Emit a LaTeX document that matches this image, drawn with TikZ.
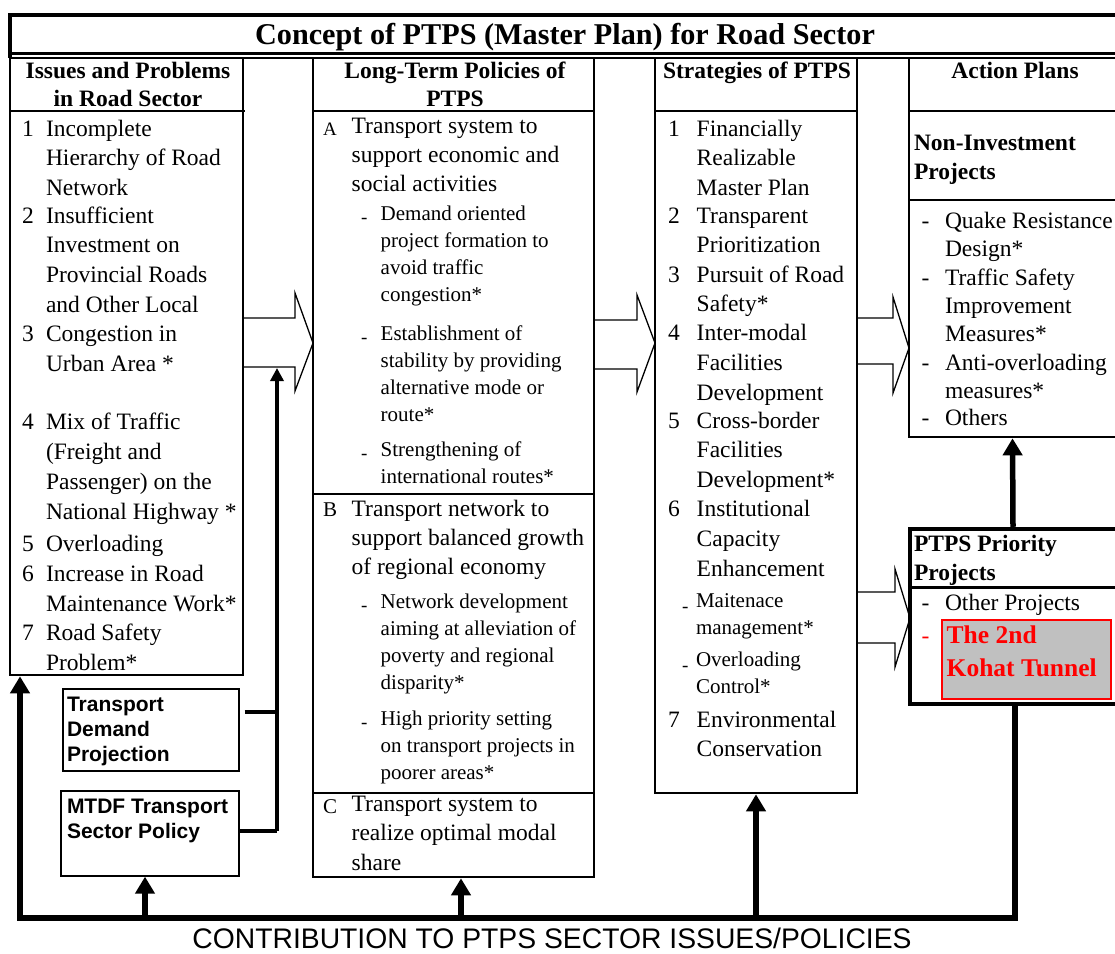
\documentclass[tikz,border=0pt]{standalone}
\usepackage{fontspec}
\setmainfont{Liberation Serif}
\newfontfamily\gothic{Liberation Sans}
\usetikzlibrary{arrows.meta}
\definecolor{tunnelgray}{RGB}{192,192,192}
\definecolor{tunnelred}{RGB}{255,0,0}
\newcommand{\mlines}[1]{\begin{tabular}[t]{@{}l@{}}#1\end{tabular}}
\newcommand{\clines}[1]{\begin{tabular}[t]{@{}c@{}}#1\end{tabular}}
\begin{document}
\begin{tikzpicture}[x=1pt,y=-1pt,
 colbox/.style={draw, line width=2.6pt, inner sep=0pt},
 sepline/.style={line width=2.6pt},
 smallbox/.style={draw, line width=1.3pt, inner sep=0pt},
 txt/.style={inner sep=0pt, outer sep=0pt, anchor=base west},
 main/.style={txt, font=\fontsize{23.5}{29.7}\selectfont},
 sub/.style={txt, font=\fontsize{21}{27.2}\selectfont},
 dashmark/.style={txt, font=\fontsize{19}{19}\selectfont},
 hdr/.style={inner sep=0pt, anchor=base, font=\bfseries\fontsize{23.5}{28}\selectfont},
 bhd/.style={txt, font=\bfseries\fontsize{23.5}{29.5}\selectfont},
 gth/.style={txt, font=\gothic\bfseries\fontsize{21}{25}\selectfont},
 hollow/.style={line width=1.3pt, line join=miter},
 feed/.style={line width=5.5pt, line join=miter},
 feedtip/.style={-{Triangle[length=17pt,width=19pt]}},
 conn/.style={line width=3.3pt},
 conntip/.style={-{Triangle[length=13pt,width=13pt]}},
]
\useasboundingbox (0,0) rectangle (1115,953);
\clip (0,0) rectangle (1115,953);

% title frame
\draw[line width=3.5pt, line join=miter] (1125,15) -- (10,15) -- (10,58);
\draw[line width=3pt] (8.5,53) -- (1125,53);
\draw[line width=2pt] (8.5,58) -- (1125,58);
\node[inner sep=0pt, anchor=base, font=\bfseries\fontsize{30.2}{34}\selectfont] (title) at (565,44) {Concept of PTPS (Master Plan) for Road Sector};

% column boxes
\node[colbox, minimum width=233pt, minimum height=617pt] (c1) at (126.5,366.5) {};
\node[colbox, minimum width=281pt, minimum height=819pt] (c2) at (453.5,467.5) {};
\node[colbox, minimum width=202pt, minimum height=735pt] (c3) at (756,425.5) {};
\node[colbox, minimum width=216pt, minimum height=379pt] (c4) at (1017,247.5) {};
\node[draw, line width=4.5pt, inner sep=0pt, minimum width=215pt, minimum height=175pt] (pp) at (1017.5,616.5) {};
\node[draw=tunnelred, fill=tunnelgray, line width=1.3pt, inner sep=0pt, minimum width=169pt, minimum height=79pt] (redbox) at (1026.5,659.5) {};

\draw[sepline] (10,111) -- (245,111);
\draw[sepline] (313,111) -- (594,111);
\draw[sepline] (313,494) -- (594,494);
\draw[sepline] (313,793) -- (594,793);
\draw[sepline] (655,111) -- (857,111);
\draw[sepline] (909,111) -- (1125,111);
\draw[sepline] (909,200) -- (1125,200);
\draw[line width=3pt] (910,587) -- (1125,587);

% headers
\node[hdr] (h1) at (128,78) {\clines{Issues and Problems\\in Road Sector}};
\node[hdr] (h2) at (455,78) {\clines{Long-Term Policies of\\PTPS}};
\node[hdr] (h3) at (757,78) {Strategies of PTPS};
\node[hdr] (h4) at (1015,78) {Action Plans};

% column 1
\node[main] (n11) at (22,136) {1};
\node[main] (t11) at (46,136) {\mlines{Incomplete\\Hierarchy of Road\\Network}};
\node[main] (n12) at (22,223) {2};
\node[main] (t12) at (46,223) {\mlines{Insufficient\\Investment on\\Provincial Roads\\and Other Local}};
\node[main] (n13) at (22,341.7) {3};
\node[main] (t13) at (46,341.7) {\mlines{Congestion in\\Urban Area *}};
\node[main] (n14) at (22,429) {4};
\node[main, font=\fontsize{23.5}{30.3}\selectfont] (t14) at (46,429) {\mlines{Mix of Traffic\\(Freight and\\Passenger) on the\\National Highway *}};
\node[main] (n15) at (22,551.7) {5};
\node[main] (t15) at (46,551.7) {Overloading};
\node[main] (n16) at (22,581.7) {6};
\node[main] (t16) at (46,581.7) {\mlines{Increase in Road\\Maintenance Work*}};
\node[main] (n17) at (22,640.7) {7};
\node[main] (t17) at (46,640.7) {\mlines{Road Safety\\Problem*}};

% column 2
\node[txt, font=\fontsize{19}{19}\selectfont] (la) at (323,135) {A};
\node[main, font=\fontsize{23.5}{29.2}\selectfont] (ta) at (351.7,133) {\mlines{Transport system to\\support economic and\\social activities}};
\node[dashmark] (da1) at (361,223) {-};
\node[sub] (sa1) at (380.7,220) {\mlines{Demand oriented\\project formation to\\avoid traffic\\congestion*}};
\node[dashmark] (da2) at (361,343) {-};
\node[sub] (sa2) at (380.7,340) {\mlines{Establishment of\\stability by providing\\alternative mode or\\route*}};
\node[dashmark] (da3) at (361,459.7) {-};
\node[sub] (sa3) at (380.7,456.7) {\mlines{Strengthening of\\international routes*}};
\node[txt, font=\fontsize{21}{21}\selectfont] (lb) at (323,516) {B};
\node[main, font=\fontsize{23.5}{29.2}\selectfont] (tb) at (351.7,516) {\mlines{Transport network to\\support balanced growth\\of regional economy}};
\node[dashmark] (db1) at (361,611) {-};
\node[sub] (sb1) at (380.7,608) {\mlines{Network development\\aiming at alleviation of\\poverty and regional\\disparity*}};
\node[dashmark] (db2) at (361,728) {-};
\node[sub] (sb2) at (380.7,725) {\mlines{High priority setting\\on transport projects in\\poorer areas*}};
\node[txt, font=\fontsize{21}{21}\selectfont] (lc) at (323,813) {C};
\node[main, font=\fontsize{23.5}{29.2}\selectfont] (tc) at (351.7,811.7) {\mlines{Transport system to\\realize optimal modal\\share}};

% column 3
\node[main] (n31) at (668,136) {1};
\node[main] (t31) at (696.7,136) {\mlines{Financially\\Realizable\\Master Plan}};
\node[main] (n32) at (668,223) {2};
\node[main] (t32) at (696.7,223) {\mlines{Transparent\\Prioritization}};
\node[main] (n33) at (668,282) {3};
\node[main] (t33) at (696.7,282) {\mlines{Pursuit of Road\\Safety*}};
\node[main] (n34) at (668,340.7) {4};
\node[main] (t34) at (696.7,340.7) {\mlines{Inter-modal\\Facilities\\Development}};
\node[main] (n35) at (668,428) {5};
\node[main] (t35) at (696.7,428) {\mlines{Cross-border\\Facilities\\Development*}};
\node[main] (n36) at (668,516.7) {6};
\node[main] (t36) at (696.7,516.7) {\mlines{Institutional\\Capacity\\Enhancement}};
\node[dashmark] (d361) at (682,612) {-};
\node[sub] (s361) at (696,607) {\mlines{Maitenace\\management*}};
\node[dashmark] (d362) at (682,671) {-};
\node[sub] (s362) at (696,666) {\mlines{Overloading\\Control*}};
\node[main] (n37) at (668,727) {7};
\node[main] (t37) at (696.7,727) {\mlines{Environmental\\Conservation}};

% column 4
\node[bhd] (nih) at (914,150) {\mlines{Non-Investment\\Projects}};
\node[main] (d41) at (921.7,228) {-};
\node[main, font=\fontsize{23.5}{28.5}\selectfont] (t41) at (945,228) {\mlines{Quake Resistance\\Design*}};
\node[main] (d42) at (921.7,285) {-};
\node[main, font=\fontsize{23.5}{28.4}\selectfont] (t42) at (945,285) {\mlines{Traffic Safety\\Improvement\\Measures*}};
\node[main] (d43) at (921.7,370) {-};
\node[main, font=\fontsize{23.5}{28.4}\selectfont] (t43) at (945,370) {\mlines{Anti-overloading\\measures*}};
\node[main] (d44) at (921.7,425) {-};
\node[main] (t44) at (945,425) {Others};

% PTPS priority
\node[bhd, font=\bfseries\fontsize{23.5}{28.5}\selectfont] (pph) at (914,551.7) {\mlines{PTPS Priority\\Projects}};
\node[main] (d51) at (921.7,610) {-};
\node[main] (t51) at (945,610) {Other Projects};
\node[main, text=tunnelred] (d52) at (921.7,643) {-};
\node[txt, text=tunnelred, font=\bfseries\fontsize{25.5}{33.7}\selectfont] (t52) at (946.7,643) {\mlines{The 2nd\\Kohat Tunnel}};

% small boxes
\node[smallbox, minimum width=176pt, minimum height=82pt] (tdp) at (151,730) {};
\node[gth] (tdpt) at (67,711.7) {\mlines{Transport\\Demand\\Projection}};
\node[smallbox, minimum width=178pt, minimum height=85pt] (mtdf) at (150,833.5) {};
\node[gth] (mtdft) at (67,813) {\mlines{MTDF Transport\\Sector Policy}};

% hollow block arrows
\draw[hollow] (243,318) -- (295,318) -- (295,293) -- (313,343) -- (295,391) -- (295,367) -- (243,367);
\draw[hollow] (594,320) -- (637,320) -- (637,295) -- (655,343) -- (637,392) -- (637,369) -- (594,369);
\draw[hollow] (857,318) -- (893,318) -- (893,297) -- (909,348) -- (893,393) -- (893,364) -- (857,364);
\draw[hollow] (857,592) -- (895,592) -- (895,569) -- (910,618) -- (895,667) -- (895,643) -- (857,643);

% connectors from small boxes
\coordinate (j1) at (277,712);
\coordinate (j2) at (277,831);
\coordinate (ha1) at (277,368);
\draw[conn] ([xshift=5pt]tdp.east |- j1) -- (j1);
\draw[conn] (mtdf.east |- j2) -- (j2);
\draw[conn, conntip] (j2) -- (ha1);

% feedback lines
\coordinate (bl) at (20,918);
\draw[feed, feedtip] (pp.south -| 1015,0) |- (bl) -- (bl |- c1.south);
\draw[feed, feedtip] (145,918) -- ([xshift=-5pt]mtdf.south);
\draw[feed, feedtip] (461,918) -- ([xshift=7.5pt]c2.south);
\draw[feed, feedtip] (c3.south |- bl) -- (c3.south);
\draw[feed, feedtip] ([xshift=-4.5pt]pp.north) -- ([xshift=-4.5pt]c4.south);

\node[inner sep=0pt, anchor=base, font=\gothic\fontsize{28.3}{30}\selectfont] (foot) at (552,948) {CONTRIBUTION TO PTPS SECTOR ISSUES/POLICIES};
\end{tikzpicture}
\end{document}
